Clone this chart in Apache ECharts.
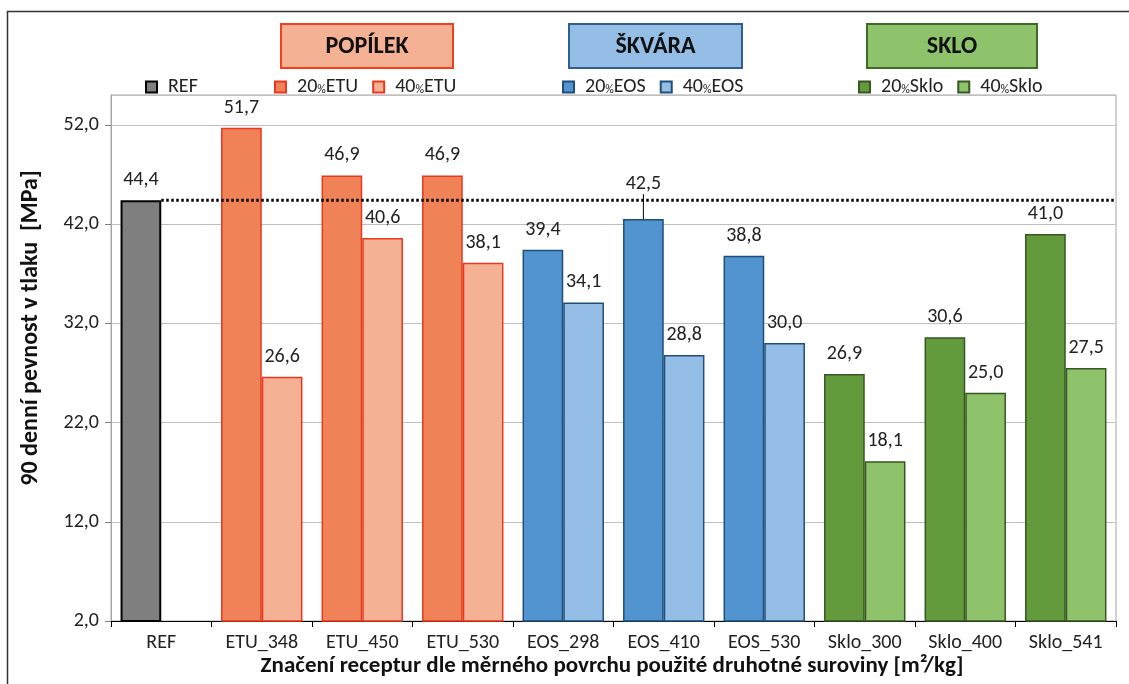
<!DOCTYPE html>
<html>
<head>
<meta charset="utf-8">
<script src="https://cdn.jsdelivr.net/npm/echarts@6/dist/echarts.min.js"></script>
<style>html,body{margin:0;padding:0;background:#fff}#c{width:1129px;height:684px}</style>
</head>
<body>
<div id="c"></div>
<script>
const categories = ['REF','ETU_348','ETU_450','ETU_530','EOS_298','EOS_410','EOS_530','Sklo_300','Sklo_400','Sklo_541'];
const refValues  = [44.4, null, null, null, null, null, null, null, null, null];
const etu20      = [null, 51.7, 46.9, 46.9, null, null, null, null, null, null];
const etu40      = [null, 26.6, 40.6, 38.1, null, null, null, null, null, null];
const eos20      = [null, null, null, null, 39.4, 42.5, 38.8, null, null, null];
const eos40      = [null, null, null, null, 34.1, 28.8, 30.0, null, null, null];
const sklo20     = [null, null, null, null, null, null, null, 26.9, 30.6, 41.0];
const sklo40     = [null, null, null, null, null, null, null, 18.1, 25.0, 27.5];
const refLevel = 44.4;
const yMin = 2, yMax = 55, yStep = 10;
const groupTitles = ['POPÍLEK', 'ŠKVÁRA', 'SKLO'];
const yTitle = '90 denní pevnost v tlaku  [MPa]';
const xTitle = 'Značení receptur dle měrného povrchu použité druhotné suroviny [m²/kg]';

const FONT = 'Carlito, Lato, "Noto Sans", sans-serif';
const fmt = v => Number(v).toFixed(1).replace('.', ',');

function barSeries(name, values, stack, color, border, bw, special) {
  return {
    name, type: 'bar', stack,
    barGap: '0%', barCategoryGap: '19%',
    data: values.map((v, i) => {
      if (special && special.index === i && v != null) {
        return { value: v, labelLine: { show: true, lineStyle: { color: '#000', width: 1 } } };
      }
      return v;
    }),
    itemStyle: { color, borderColor: border, borderWidth: bw },
    label: {
      show: true, position: 'top', distance: 10,
      fontFamily: FONT, fontSize: 20, color: '#222',
      formatter: p => p.value == null ? '' : fmt(p.value)
    },
    labelLayout: special ? (p => p.dataIndex === special.index ? { dy: -15 } : {}) : undefined,
    z: 2
  };
}

const legendText = {
  fontFamily: FONT, fontSize: 20, color: '#222', padding: [0, 0, 0, 6],
  rich: { s: { fontFamily: FONT, fontSize: 12, color: '#222', verticalAlign: 'bottom', padding: [0, 0, 1, 0] } }
};
const legendFmt = n => n.replace('%', '{s|%}');
function mkLegend(data, left) {
  return { data, left, top: 72, itemWidth: 11, itemHeight: 11, itemGap: 14, icon: 'rect',
    textStyle: legendText, formatter: legendFmt, selectedMode: false };
}

function box(x, w, fill, stroke, text) {
  return {
    type: 'group', left: x, top: 23,
    children: [
      { type: 'rect', shape: { x: 0, y: 0, width: w, height: 44 }, style: { fill, stroke, lineWidth: 2 } },
      { type: 'text', style: { x: w / 2, y: 23, text, align: 'center', verticalAlign: 'middle',
        font: 'bold 24px ' + FONT, fill: '#111' } }
    ]
  };
}

const option = {
  animation: false,
  backgroundColor: '#fff',
  grid: { left: 111, right: 13, top: 95, bottom: 63, show: true, borderColor: '#A6A6A6', borderWidth: 1 },
  legend: [
    mkLegend(['REF'], 140),
    mkLegend(['20%ETU', '40%ETU'], 269),
    mkLegend(['20%EOS', '40%EOS'], 557),
    mkLegend(['20%Sklo', '40%Sklo'], 853)
  ],
  xAxis: [{
    type: 'category', data: categories,
    axisLine: { lineStyle: { color: '#000', width: 1.2 } },
    axisTick: { show: true, interval: 0, length: 6, lineStyle: { color: '#000' } },
    axisLabel: { fontFamily: FONT, fontSize: 20, color: '#222', margin: 12, interval: 0 },
    splitLine: { show: false }
  }, {
    type: 'value', min: 0, max: categories.length, show: false
  }],
  yAxis: {
    type: 'value', min: yMin, max: yMax, interval: yStep,
    axisLine: { show: true, lineStyle: { color: '#A6A6A6' } },
    axisTick: { show: true, length: 6, lineStyle: { color: '#808080' } },
    axisLabel: { fontFamily: FONT, fontSize: 20, color: '#222', margin: 12, formatter: v => fmt(v), showMaxLabel: false },
    splitLine: { show: true, lineStyle: { color: '#BFBFBF', width: 1 } }
  },
  series: [
    barSeries('REF', refValues, 'L', '#7F7F7F', '#000000', 2),
    barSeries('20%ETU', etu20, 'L', '#EF8257', '#E8381E', 1.5),
    barSeries('40%ETU', etu40, 'R', '#F5B194', '#E8381E', 1.5),
    barSeries('20%EOS', eos20, 'L', '#5194D0', '#1F4E79', 1.5, { index: 5 }),
    barSeries('40%EOS', eos40, 'R', '#94BEE5', '#1F4E79', 1.5),
    barSeries('20%Sklo', sklo20, 'L', '#629A3C', '#375623', 1.5),
    barSeries('40%Sklo', sklo40, 'R', '#8EC36B', '#375623', 1.5),
    {
      name: 'refline', type: 'line', xAxisIndex: 1, yAxisIndex: 0,
      data: [[0.5, refLevel], [categories.length, refLevel]],
      symbol: 'none', silent: true,
      lineStyle: { color: '#000', width: 3, type: [2.5, 2.5] }, z: 5
    }
  ],
  graphic: [
    { type: 'polyline', shape: { points: [[7.5, 700], [7.5, 11.5], [1140, 11.5]] }, style: { stroke: '#333', lineWidth: 1.5, fill: null }, silent: true },
    box(280, 172, '#F5B194', '#F0401E', groupTitles[0]),
    box(568, 173, '#94BEE5', '#2F5F8F', groupTitles[1]),
    box(866, 170, '#8EC36B', '#3F6A28', groupTitles[2]),
    { type: 'text', rotation: Math.PI / 2, x: 31, y: 328,
      style: { text: yTitle, align: 'center', verticalAlign: 'middle', font: 'bold 24px ' + FONT, fill: '#111' } },
    { type: 'text', x: 612, y: 666,
      style: { text: xTitle, align: 'center', verticalAlign: 'middle', font: 'bold 23px ' + FONT, fill: '#111' } }
  ]
};

const chart = echarts.init(document.getElementById('c'), null, { renderer: 'canvas' });
chart.setOption(option);
</script>
</body>
</html>
